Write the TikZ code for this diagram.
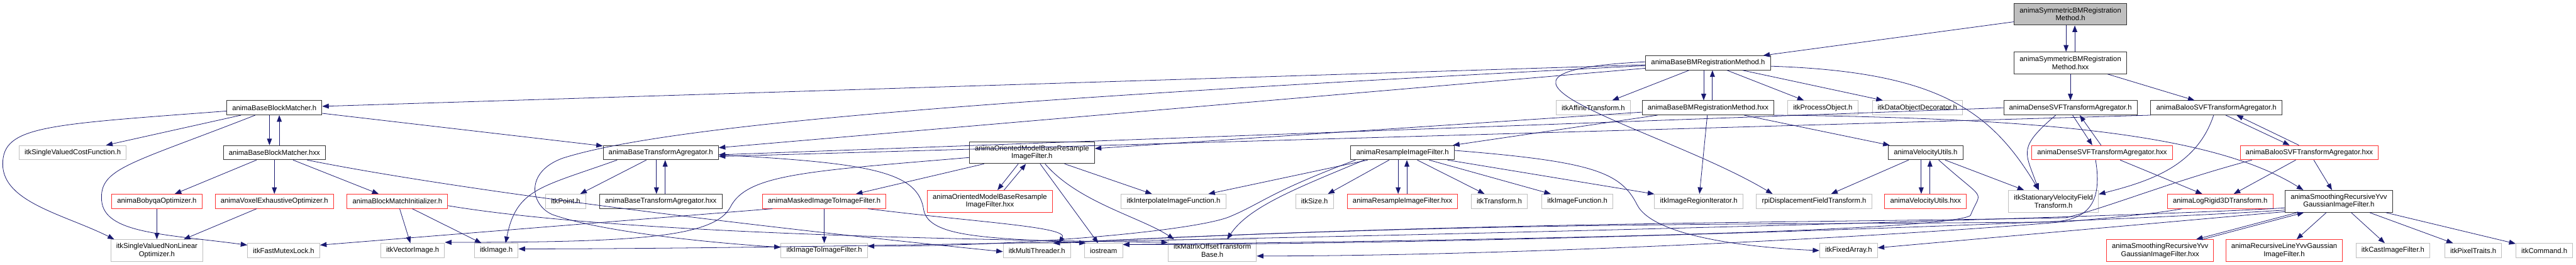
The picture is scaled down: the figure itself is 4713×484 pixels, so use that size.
\documentclass[tikz,border=0pt]{standalone}
\usepackage{fontspec}
\setmainfont{Liberation Sans}
\usetikzlibrary{arrows.meta}

\definecolor{edgeblue}{RGB}{25,25,112}
\definecolor{extgray}{RGB}{191,191,191}
\definecolor{trred}{RGB}{255,48,48}
\definecolor{rootgray}{RGB}{191,191,191}

\begin{document}
\begin{tikzpicture}[x=1pt, y=1pt,
  file/.style={draw, rectangle, align=center, inner xsep=10pt, inner ysep=2pt,
    minimum height=26pt, line width=1.1pt, font=\fontsize{13}{14.3}\selectfont},
  ext/.style={file, draw=extgray},
  proj/.style={file, draw=black!80},
  trunc/.style={file, draw=trred},
  root/.style={file, draw=black!80, fill=rootgray},
  tall/.style={minimum height=40pt},
  dep/.style={draw=edgeblue, line width=0.9pt, -{Triangle[length=12pt,width=9pt]}}]

\useasboundingbox (0,0) rectangle (4713,484);

% Top: the file itself and its implementation
\node[root, tall] (symh) at (3788,458) {animaSymmetricBMRegistration\\Method.h};
\node[proj] (bmrh) at (3125,369) {animaBaseBMRegistrationMethod.h};
\node[proj, tall] (symhxx) at (3788,369) {animaSymmetricBMRegistration\\Method.hxx};

% Second row
\node[proj] (bbmh) at (502,287) {animaBaseBlockMatcher.h};
\node[ext] (affine) at (2915,287) {itkAffineTransform.h};
\node[proj] (bmrhxx) at (3125,287) {animaBaseBMRegistrationMethod.hxx};
\node[ext] (procobj) at (3335,287) {itkProcessObject.h};
\node[ext] (decor) at (3508,287) {itkDataObjectDecorator.h};
\node[proj] (densh) at (3788,287) {animaDenseSVFTransformAgregator.h};
\node[proj] (baloh) at (4055,287) {animaBalooSVFTransformAgregator.h};

% Third row
\node[ext] (costfn) at (133,205) {itkSingleValuedCostFunction.h};
\node[proj] (bbmhxx) at (502,205) {animaBaseBlockMatcher.hxx};
\node[proj] (btah) at (1209,205) {animaBaseTransformAgregator.h};
\node[proj, tall] (omrh) at (1888,205) {animaOrientedModelBaseResample\\ImageFilter.h};
\node[proj] (resh) at (2566,205) {animaResampleImageFilter.h};
\node[proj] (velh) at (3523,205) {animaVelocityUtils.h};
\node[trunc] (denshxx) at (3846,205) {animaDenseSVFTransformAgregator.hxx};
\node[trunc] (balohxx) at (4225,205) {animaBalooSVFTransformAgregator.hxx};

% Fourth row
\node[trunc] (bobyqa) at (287,116) {animaBobyqaOptimizer.h};
\node[trunc] (voxel) at (502,116) {animaVoxelExhaustiveOptimizer.h};
\node[trunc] (bminit) at (727,116) {animaBlockMatchInitializer.h};
\node[ext] (point) at (1035,116) {itkPoint.h};
\node[proj] (btahxx) at (1209,116) {animaBaseTransformAgregator.hxx};
\node[trunc] (masked) at (1508,116) {animaMaskedImageToImageFilter.h};
\node[trunc, tall] (omrhxx) at (1811,116) {animaOrientedModelBaseResample\\ImageFilter.hxx};
\node[ext] (interp) at (2147,116) {itkInterpolateImageFunction.h};
\node[ext] (size) at (2405,116) {itkSize.h};
\node[trunc] (reshxx) at (2566,116) {animaResampleImageFilter.hxx};
\node[ext] (transf) at (2743,116) {itkTransform.h};
\node[ext] (imgfn) at (2886,116) {itkImageFunction.h};
\node[ext] (regit) at (3108,116) {itkImageRegionIterator.h};
\node[ext] (rpi) at (3319,116) {rpiDisplacementFieldTransform.h};
\node[trunc] (velhxx) at (3523,116) {animaVelocityUtils.hxx};
\node[ext, tall] (svf) at (3757,116) {itkStationaryVelocityField\\Transform.h};
\node[trunc] (logrig) at (4062,116) {animaLogRigid3DTransform.h};
\node[proj, tall] (yvvh) at (4279,116) {animaSmoothingRecursiveYvv\\GaussianImageFilter.h};

% Bottom row
\node[ext, tall] (nlopt) at (287,26) {itkSingleValuedNonLinear\\Optimizer.h};
\node[ext] (mutex) at (519,26) {itkFastMutexLock.h};
\node[ext] (vecimg) at (755,26) {itkVectorImage.h};
\node[ext] (image) at (908,26) {itkImage.h};
\node[ext] (i2i) at (1508,26) {itkImageToImageFilter.h};
\node[ext] (mthread) at (1897,26) {itkMultiThreader.h};
\node[ext] (iostr) at (2019,26) {iostream};
\node[ext, tall] (matoff) at (2218,26) {itkMatrixOffsetTransform\\Base.h};
\node[ext] (fixarr) at (3382,26) {itkFixedArray.h};
\node[trunc, tall] (yvvhxx) at (3952,26) {animaSmoothingRecursiveYvv\\GaussianImageFilter.hxx};
\node[trunc, tall] (recline) at (4179,26) {animaRecursiveLineYvvGaussian\\ImageFilter.h};
\node[ext] (cast) at (4378,26) {itkCastImageFilter.h};
\node[ext] (pixtr) at (4525,26) {itkPixelTraits.h};
\node[ext] (cmd) at (4655,26) {itkCommand.h};

% Symmetric method
\draw[dep] (symh) -- (bmrh);
\draw[dep] ([xshift=-8pt]symh.south) -- ([xshift=-8pt]symhxx.north);
\draw[dep] ([xshift=8pt]symhxx.north) -- ([xshift=8pt]symh.south);
\draw[dep] (symhxx) -- (densh);
\draw[dep] (symhxx) -- ([xshift=-40pt]baloh.north);

% Base registration method
\draw[dep] (bmrh) -- (bbmh);
\draw[dep] (bmrh) -- (btah);
\draw[dep] ([yshift=-5pt]bmrh.west) .. controls (2000,312) and (1250,265) .. (1030,195)
  .. controls (960,170) and (970,110) .. (1010,92)
  .. controls (1100,60) and (1300,40) .. ([yshift=6pt]i2i.west);
\draw[dep] ([yshift=2pt]bmrh.west) .. controls +(-400,-20) and +(-200,120) .. ([xshift=30pt]rpi.north west);
\draw[dep] (bmrh) -- (affine);
\draw[dep] ([xshift=-8pt]bmrh.south) -- ([xshift=-8pt]bmrhxx.north);
\draw[dep] ([xshift=8pt]bmrhxx.north) -- ([xshift=8pt]bmrh.south);
\draw[dep] (bmrh) -- (procobj);
\draw[dep] (bmrh) -- (decor);
\draw[dep] ([yshift=-6pt]bmrh.east) .. controls +(300,-10) and +(-90,150) .. ([xshift=-27pt]svf.north);

\draw[dep] (bmrhxx) -- (omrh);
\draw[dep] (bmrhxx) -- (resh);
\draw[dep] (bmrhxx) -- (regit);
\draw[dep] (bmrhxx) -- (velh);
\draw[dep] (bmrhxx.south east) .. controls +(500,-5) and +(-160,100) .. ([xshift=-65pt]yvvh.north);

% SVF agregators
\draw[dep] (densh.west) -- ([yshift=-4pt]btah.east);
\draw[dep] ([xshift=-120pt]baloh.south) -- ([yshift=-7pt]btah.east);
\draw[dep] ([xshift=4pt]densh.south) -- ([xshift=-18pt]denshxx.north);
\draw[dep] ([xshift=-2pt]denshxx.north) -- ([xshift=17pt]densh.south);
\draw[dep] ([xshift=-27pt]densh.south) .. controls +(-70,-60) and +(-25,70) .. ([xshift=-27pt]svf.north);
\draw[dep] ([xshift=17pt]baloh.south) -- ([xshift=-36pt]balohxx.north);
\draw[dep] ([xshift=-19pt]balohxx.north) -- ([xshift=37pt]baloh.south);
\draw[dep] ([xshift=-5pt]baloh.south) .. controls +(-30,-90) and +(100,25) .. ([yshift=13pt]svf.east);

% Velocity utils
\draw[dep] (velh) -- (rpi);
\draw[dep] ([xshift=-8pt]velh.south) -- ([xshift=-8pt]velhxx.north);
\draw[dep] ([xshift=8pt]velhxx.north) -- ([xshift=8pt]velh.south);
\draw[dep] (velh) -- (svf);
\draw[dep] ([xshift=24pt]velh.south) .. controls +(90,-80) and +(20,50) .. (3605,90)
  .. controls +(-40,-25) and +(900,10) .. ([yshift=11pt]iostr.east);

\draw[dep] (denshxx) -- (logrig);
\draw[dep] ([xshift=-12pt]denshxx.south) .. controls +(15,-90) and +(70,0) .. (3740,78)
  .. controls +(-500,-5) and +(800,40) .. ([xshift=30pt]mthread.north);
\draw[dep] (balohxx) -- (logrig);
\draw[dep] (balohxx) -- (yvvh);
\draw[dep] ([xshift=-105pt]balohxx.south) .. controls +(-150,-40) and +(80,20) .. (3780,86)
  .. controls +(-500,-10) and +(800,40) .. ([xshift=30pt]mthread.north);

% Smoothing filter
\draw[dep] ([xshift=-70pt]logrig.south) .. controls +(-150,-30) and +(600,0) .. ([yshift=-10pt]matoff.east);
\draw[dep] ([yshift=-12pt]yvvh.west) .. controls +(-300,-20) and +(800,0) .. ([yshift=3pt]image.east);
\draw[dep] ([yshift=-16pt]yvvh.west) .. controls +(-300,-20) and +(700,0) .. ([yshift=11pt]iostr.east);
\draw[dep] ([yshift=-19pt]yvvh.west) -- ([yshift=5pt]fixarr.east);
\draw[dep] ([xshift=-76pt]yvvh.south) -- ([xshift=66pt]yvvhxx.north);
\draw[dep] ([xshift=78pt]yvvhxx.north) -- ([xshift=-64pt]yvvh.south);
\draw[dep] (yvvh) -- (recline);
\draw[dep] (yvvh) -- (cast);
\draw[dep] (yvvh) -- (pixtr);
\draw[dep] (yvvh) -- (cmd);

% Block matcher
\draw[dep] (bbmh) -- (costfn);
\draw[dep] ([yshift=-6pt]bbmh.west) .. controls +(-330,-25) and +(0,70) .. (5,184)
  .. controls +(0,-70) and +(-90,45) .. ([xshift=-78pt]nlopt.north);
\draw[dep] ([xshift=-35pt]bbmh.south) .. controls +(-230,-90) and +(-5,60) .. (186,117)
  .. controls +(5,-60) and +(-150,20) .. ([yshift=10pt]mutex.west);
\draw[dep] ([xshift=-9pt]bbmh.south) -- ([xshift=-9pt]bbmhxx.north);
\draw[dep] ([xshift=9pt]bbmhxx.north) -- ([xshift=9pt]bbmh.south);
\draw[dep] (bbmh) -- (btah);
\draw[dep] (bbmhxx) -- (bobyqa);
\draw[dep] (bbmhxx) -- (voxel);
\draw[dep] (bbmhxx) -- (bminit);
\draw[dep] ([xshift=60pt]bbmhxx.south) .. controls +(300,-60) and +(-400,40) .. ([yshift=-2pt]mthread.west);
\draw[dep] (bobyqa) -- (nlopt);
\draw[dep] (voxel) -- (nlopt);
\draw[dep] (bminit) -- (vecimg);
\draw[dep] (bminit) -- (image);
\draw[dep] ([yshift=-8pt]bminit.east) .. controls +(300,-50) and +(-400,5) .. ([yshift=15pt]matoff.west);

% Transform agregator
\draw[dep] (btah) -- (point);
\draw[dep] ([xshift=-8pt]btah.south) -- ([xshift=-8pt]btahxx.north);
\draw[dep] ([xshift=8pt]btahxx.north) -- ([xshift=8pt]btah.south);
\draw[dep] ([xshift=-80pt]btah.south) .. controls +(-140,-50) and +(20,100) .. ([xshift=17pt]image.north);
\draw[dep] ([yshift=-4pt]btah.east) .. controls +(280,-15) and +(-10,70) .. (1690,100)
  .. controls +(10,-50) and +(-180,10) .. ([xshift=3pt]iostr.north west);

% Masked filter
\draw[dep] ([xshift=-95pt]masked.south) -- ([yshift=10pt]mutex.east);
\draw[dep] (masked) -- (i2i);
\draw[dep] ([xshift=80pt]masked.south) .. controls +(200,-25) and +(20,30) .. ([xshift=40pt]mthread.north);

% Oriented model resample filter
\draw[dep] ([yshift=-9pt]omrh.west) .. controls +(-300,-25) and +(30,60) .. (1336,105)
  .. controls +(-30,-55) and +(350,0) .. ([yshift=15pt]vecimg.east);
\draw[dep] (omrh) -- (masked);
\draw[dep] ([xshift=-25pt]omrh.south) -- ([xshift=14pt]omrhxx.north);
\draw[dep] ([xshift=26pt]omrhxx.north) -- ([xshift=-11pt]omrh.south);
\draw[dep] (omrh) -- (iostr);
\draw[dep] ([xshift=24pt]omrh.south) .. controls +(60,-70) and +(-60,40) .. ([xshift=-70pt]matoff.north);
\draw[dep] (omrh) -- (interp);

% Resample filter
\draw[dep] ([xshift=-86pt]resh.south) .. controls +(-160,-60) and +(60,25) .. (2250,88)
  .. controls +(-60,-25) and +(300,0) .. ([yshift=8pt]i2i.east);
\draw[dep] (resh) -- (interp);
\draw[dep] ([xshift=-70pt]resh.south) .. controls +(-120,-50) and +(40,60) .. ([xshift=27pt]matoff.north);
\draw[dep] (resh) -- (size);
\draw[dep] ([xshift=-8pt]resh.south) -- ([xshift=-8pt]reshxx.north);
\draw[dep] ([xshift=8pt]reshxx.north) -- ([xshift=8pt]resh.south);
\draw[dep] (resh) -- (transf);
\draw[dep] (resh) -- (imgfn);
\draw[dep] (resh) -- (regit);
\draw[dep] ([yshift=4pt]resh.east) .. controls +(250,-20) and +(-30,60) .. (2995,110)
  .. controls +(30,-60) and +(-120,5) .. (fixarr.west);

\end{tikzpicture}
\end{document}
